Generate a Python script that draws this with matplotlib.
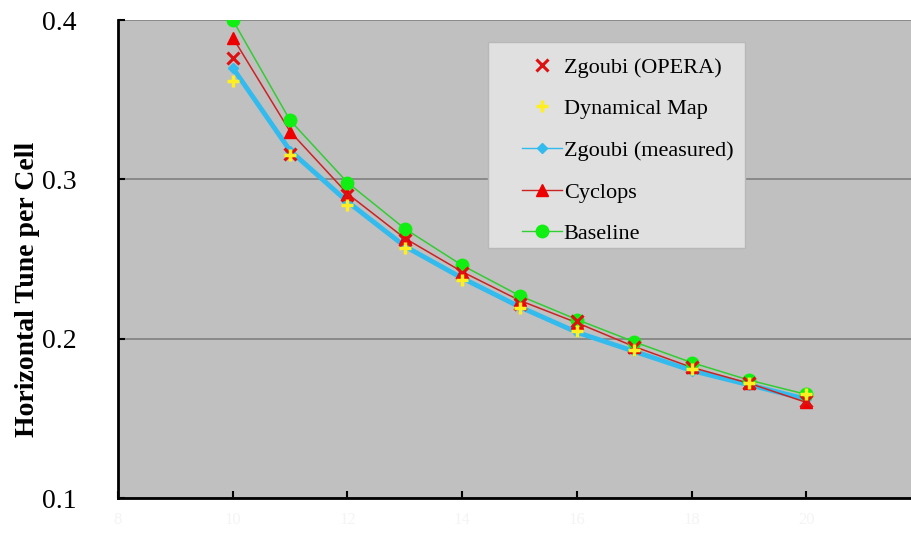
import matplotlib
matplotlib.use("Agg")
import matplotlib.pyplot as plt
from matplotlib.patches import Rectangle

energy = [10, 11, 12, 13, 14, 15, 16, 17, 18, 19, 20]
zgoubi_opera = [0.376, 0.316, 0.290, 0.262, 0.241, 0.222, 0.211, 0.195, 0.182, 0.172, 0.161]
dynamical_map = [0.362, 0.315, 0.284, 0.257, 0.237, 0.219, 0.205, 0.193, 0.181, 0.172, 0.165]
zgoubi_measured = [0.370, 0.318, 0.286, 0.258, 0.238, 0.220, 0.204, 0.192, 0.180, 0.171, 0.162]
cyclops = [0.389, 0.330, 0.291, 0.263, 0.242, 0.224, 0.210, 0.195, 0.182, 0.172, 0.160]
baseline = [0.400, 0.337, 0.298, 0.269, 0.246, 0.227, 0.212, 0.198, 0.185, 0.174, 0.165]
x_ticks = [8, 10, 12, 14, 16, 18, 20]
y_ticks = [0.1, 0.2, 0.3, 0.4]

serif = ["Liberation Serif", "DejaVu Serif"]
W, H = 912, 534

fig = plt.figure(figsize=(9.12, 5.34), dpi=100)
ax = fig.add_axes([118/W, 36/H, 1.0 - 118/W + 0.01, 478/H])
ax.set_facecolor("#c0c0c0")

ax.plot(energy, zgoubi_measured, color="#33bbee", lw=3.5, marker="D", ms=5,
        mfc="#33bbee", mec="#33bbee", label="Zgoubi (measured)", zorder=3)
ax.plot(energy, cyclops, color="#cc2222", lw=1.1, marker="^", ms=8,
        mfc="#ee0000", mec="#ee0000", label="Cyclops", zorder=4)
ax.plot(energy, baseline, color="#33cc33", lw=1.1, marker="o", ms=9,
        mfc="#11ee11", mec="#11ee11", label="Baseline", zorder=5)
ax.plot(energy, zgoubi_opera, ls="none", marker="x", ms=8, mew=2.2,
        color="#dd1111", label="Zgoubi (OPERA)", zorder=6)
ax.plot(energy, dynamical_map, ls="none", marker="+", ms=9, mew=2.5,
        color="#ffee22", label="Dynamical Map", zorder=7)

ax.set_xlim(8, 22)
ax.set_ylim(0.1, 0.4)
ax.set_yticks(y_ticks)
ax.set_yticklabels([f"{v:.1f}" for v in y_ticks], fontfamily=serif, fontsize=20)
ax.set_xticks(x_ticks)
ax.set_xticklabels([str(v) for v in x_ticks], fontfamily=serif, fontsize=12, color="#f4f4f4")
ax.tick_params(axis="y", direction="in", length=5, width=1.5, pad=30)
ax.tick_params(axis="x", direction="in", length=5, width=1.5, pad=10)
ax.yaxis.grid(True, color="#808080", lw=1.2)
ax.set_axisbelow(True)
for s in ["top", "right"]:
    ax.spines[s].set_visible(False)
for s in ["left", "bottom"]:
    ax.spines[s].set_linewidth(2)
    ax.spines[s].set_color("black")

ax.set_ylabel("Horizontal Tune per Cell", fontfamily=serif, fontweight="bold",
              fontsize=20)
ax.yaxis.set_label_coords(-78/800, (498 - 289)/478)

# legend box
ax.add_patch(Rectangle((488/W, 1 - 248/H), 257/W, 206/H, transform=fig.transFigure,
                       facecolor="#e0e0e0", edgecolor="#b8b8b8", lw=1.0, zorder=8,
                       clip_on=False))

h, l = ax.get_legend_handles_labels()
order = [3, 4, 0, 1, 2]
leg = ax.legend([h[i] for i in order], [l[i] for i in order],
                loc="upper left", bbox_to_anchor=(522/W, 1 - 57/H),
                bbox_transform=fig.transFigure,
                prop={"family": serif, "size": 16}, frameon=False,
                handlelength=1.8, handletextpad=0.08, borderpad=0,
                labelspacing=0.95, borderaxespad=0)
leg.set_zorder(9)
for lh in leg.legend_handles:
    lh.set_linewidth(1.0)

fig.savefig("out.png", dpi=100)
